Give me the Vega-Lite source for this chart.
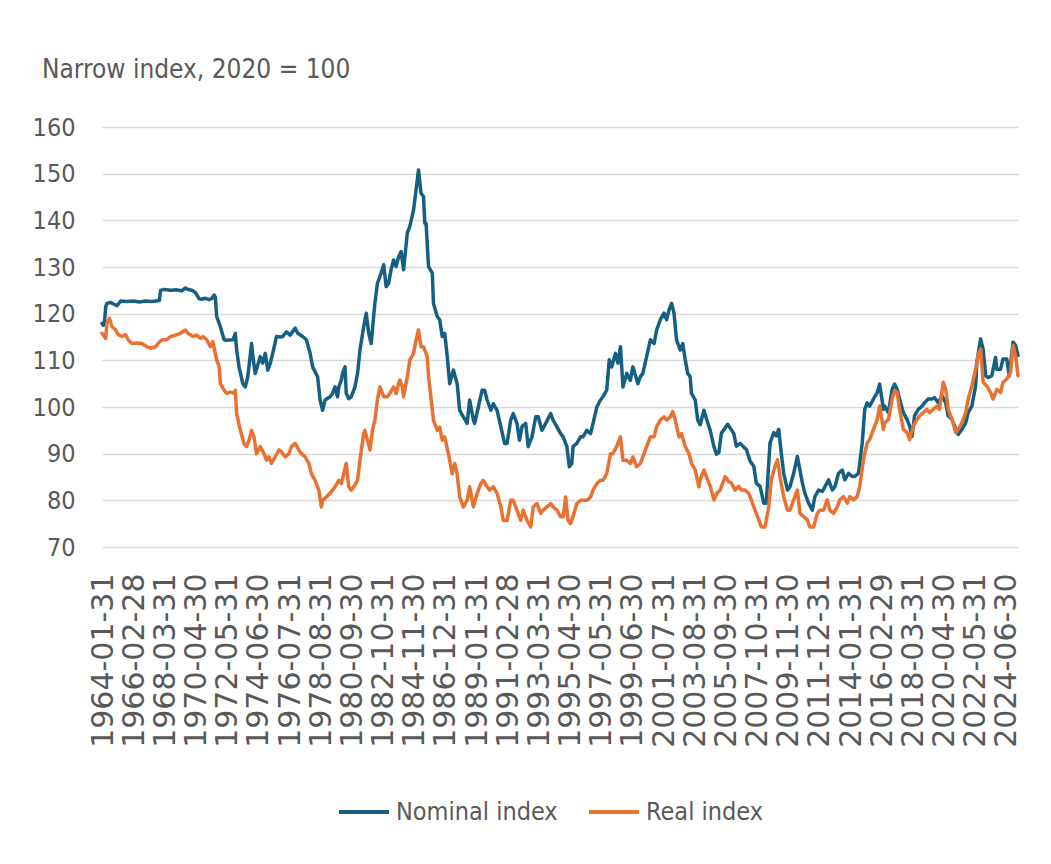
{
  "$schema": "https://vega.github.io/schema/vega-lite/v6.json",
  "autosize": "none",
  "width": 916,
  "height": 420,
  "padding": {"left": 102, "top": 127, "right": 33, "bottom": 317},
  "background": "white",
  "config": {
    "view": {"stroke": null},
    "font": "DejaVu Sans Condensed, Roboto, sans-serif"
  },
  "title": {
    "text": "Narrow index, 2020 = 100",
    "anchor": "start",
    "frame": "group",
    "font": "DejaVu Sans Condensed, Roboto, sans-serif",
    "fontSize": 26,
    "fontWeight": "normal",
    "color": "#595959",
    "dx": -60,
    "offset": 32
  },
  "data": {
    "values": [
      {"d":"1964-01","s":"Nominal index","v":117.9},
      {"d":"1964-02","s":"Nominal index","v":117.5},
      {"d":"1964-03","s":"Nominal index","v":118.0},
      {"d":"1964-04","s":"Nominal index","v":121.5},
      {"d":"1964-05","s":"Nominal index","v":122.2},
      {"d":"1964-08","s":"Nominal index","v":122.4},
      {"d":"1965-01","s":"Nominal index","v":121.7},
      {"d":"1965-04","s":"Nominal index","v":122.7},
      {"d":"1965-09","s":"Nominal index","v":122.6},
      {"d":"1966-02","s":"Nominal index","v":122.7},
      {"d":"1966-07","s":"Nominal index","v":122.5},
      {"d":"1966-12","s":"Nominal index","v":122.7},
      {"d":"1967-05","s":"Nominal index","v":122.6},
      {"d":"1967-11","s":"Nominal index","v":122.8},
      {"d":"1967-12","s":"Nominal index","v":125.0},
      {"d":"1968-03","s":"Nominal index","v":125.2},
      {"d":"1968-08","s":"Nominal index","v":125.0},
      {"d":"1969-01","s":"Nominal index","v":125.1},
      {"d":"1969-05","s":"Nominal index","v":124.9},
      {"d":"1969-08","s":"Nominal index","v":125.5},
      {"d":"1969-09","s":"Nominal index","v":125.3},
      {"d":"1970-02","s":"Nominal index","v":124.9},
      {"d":"1970-04","s":"Nominal index","v":124.5},
      {"d":"1970-07","s":"Nominal index","v":123.2},
      {"d":"1970-09","s":"Nominal index","v":123.1},
      {"d":"1970-12","s":"Nominal index","v":123.3},
      {"d":"1971-03","s":"Nominal index","v":123.0},
      {"d":"1971-05","s":"Nominal index","v":123.2},
      {"d":"1971-07","s":"Nominal index","v":124.0},
      {"d":"1971-08","s":"Nominal index","v":123.5},
      {"d":"1971-09","s":"Nominal index","v":119.4},
      {"d":"1971-12","s":"Nominal index","v":117.2},
      {"d":"1972-03","s":"Nominal index","v":114.4},
      {"d":"1972-05","s":"Nominal index","v":114.3},
      {"d":"1972-10","s":"Nominal index","v":114.4},
      {"d":"1972-12","s":"Nominal index","v":115.8},
      {"d":"1973-01","s":"Nominal index","v":112.2},
      {"d":"1973-03","s":"Nominal index","v":108.6},
      {"d":"1973-06","s":"Nominal index","v":105.0},
      {"d":"1973-08","s":"Nominal index","v":104.3},
      {"d":"1973-10","s":"Nominal index","v":106.5},
      {"d":"1974-01","s":"Nominal index","v":113.6},
      {"d":"1974-02","s":"Nominal index","v":110.8},
      {"d":"1974-04","s":"Nominal index","v":107.2},
      {"d":"1974-08","s":"Nominal index","v":110.8},
      {"d":"1974-10","s":"Nominal index","v":109.4},
      {"d":"1974-12","s":"Nominal index","v":111.5},
      {"d":"1975-02","s":"Nominal index","v":107.9},
      {"d":"1975-04","s":"Nominal index","v":109.3},
      {"d":"1975-06","s":"Nominal index","v":111.5},
      {"d":"1975-09","s":"Nominal index","v":115.1},
      {"d":"1975-12","s":"Nominal index","v":115.0},
      {"d":"1976-02","s":"Nominal index","v":115.1},
      {"d":"1976-05","s":"Nominal index","v":116.1},
      {"d":"1976-08","s":"Nominal index","v":115.4},
      {"d":"1976-12","s":"Nominal index","v":116.9},
      {"d":"1977-02","s":"Nominal index","v":115.8},
      {"d":"1977-06","s":"Nominal index","v":115.1},
      {"d":"1977-09","s":"Nominal index","v":114.4},
      {"d":"1977-12","s":"Nominal index","v":111.5},
      {"d":"1978-02","s":"Nominal index","v":108.6},
      {"d":"1978-06","s":"Nominal index","v":106.5},
      {"d":"1978-08","s":"Nominal index","v":101.5},
      {"d":"1978-10","s":"Nominal index","v":99.3},
      {"d":"1978-12","s":"Nominal index","v":101.5},
      {"d":"1979-04","s":"Nominal index","v":102.2},
      {"d":"1979-06","s":"Nominal index","v":102.9},
      {"d":"1979-08","s":"Nominal index","v":104.3},
      {"d":"1979-10","s":"Nominal index","v":102.2},
      {"d":"1979-11","s":"Nominal index","v":104.3},
      {"d":"1980-01","s":"Nominal index","v":105.7},
      {"d":"1980-02","s":"Nominal index","v":107.2},
      {"d":"1980-04","s":"Nominal index","v":108.6},
      {"d":"1980-05","s":"Nominal index","v":102.9},
      {"d":"1980-07","s":"Nominal index","v":101.8},
      {"d":"1980-09","s":"Nominal index","v":102.2},
      {"d":"1980-10","s":"Nominal index","v":102.9},
      {"d":"1980-12","s":"Nominal index","v":104.3},
      {"d":"1981-02","s":"Nominal index","v":107.2},
      {"d":"1981-04","s":"Nominal index","v":112.2},
      {"d":"1981-07","s":"Nominal index","v":117.2},
      {"d":"1981-09","s":"Nominal index","v":120.1},
      {"d":"1981-11","s":"Nominal index","v":115.8},
      {"d":"1982-01","s":"Nominal index","v":113.6},
      {"d":"1982-03","s":"Nominal index","v":119.4},
      {"d":"1982-04","s":"Nominal index","v":122.2},
      {"d":"1982-06","s":"Nominal index","v":126.5},
      {"d":"1982-09","s":"Nominal index","v":128.7},
      {"d":"1982-11","s":"Nominal index","v":130.5},
      {"d":"1983-01","s":"Nominal index","v":125.8},
      {"d":"1983-03","s":"Nominal index","v":126.5},
      {"d":"1983-05","s":"Nominal index","v":129.4},
      {"d":"1983-07","s":"Nominal index","v":131.5},
      {"d":"1983-09","s":"Nominal index","v":130.1},
      {"d":"1983-11","s":"Nominal index","v":132.2},
      {"d":"1984-01","s":"Nominal index","v":133.3},
      {"d":"1984-03","s":"Nominal index","v":129.4},
      {"d":"1984-06","s":"Nominal index","v":137.3},
      {"d":"1984-08","s":"Nominal index","v":138.7},
      {"d":"1984-11","s":"Nominal index","v":142.3},
      {"d":"1985-01","s":"Nominal index","v":146.6},
      {"d":"1985-03","s":"Nominal index","v":150.8},
      {"d":"1985-05","s":"Nominal index","v":145.8},
      {"d":"1985-07","s":"Nominal index","v":145.1},
      {"d":"1985-08","s":"Nominal index","v":139.4},
      {"d":"1985-09","s":"Nominal index","v":139.4},
      {"d":"1985-11","s":"Nominal index","v":130.1},
      {"d":"1986-02","s":"Nominal index","v":128.7},
      {"d":"1986-03","s":"Nominal index","v":122.2},
      {"d":"1986-06","s":"Nominal index","v":119.4},
      {"d":"1986-08","s":"Nominal index","v":118.7},
      {"d":"1986-10","s":"Nominal index","v":115.1},
      {"d":"1986-12","s":"Nominal index","v":115.8},
      {"d":"1987-02","s":"Nominal index","v":110.8},
      {"d":"1987-04","s":"Nominal index","v":105.0},
      {"d":"1987-07","s":"Nominal index","v":107.9},
      {"d":"1987-10","s":"Nominal index","v":105.0},
      {"d":"1987-12","s":"Nominal index","v":99.3},
      {"d":"1988-03","s":"Nominal index","v":97.9},
      {"d":"1988-06","s":"Nominal index","v":96.5},
      {"d":"1988-08","s":"Nominal index","v":101.5},
      {"d":"1988-11","s":"Nominal index","v":97.2},
      {"d":"1988-12","s":"Nominal index","v":96.5},
      {"d":"1989-03","s":"Nominal index","v":100.0},
      {"d":"1989-06","s":"Nominal index","v":103.6},
      {"d":"1989-08","s":"Nominal index","v":103.6},
      {"d":"1989-10","s":"Nominal index","v":101.5},
      {"d":"1990-01","s":"Nominal index","v":99.3},
      {"d":"1990-03","s":"Nominal index","v":100.7},
      {"d":"1990-06","s":"Nominal index","v":99.3},
      {"d":"1990-09","s":"Nominal index","v":95.8},
      {"d":"1990-12","s":"Nominal index","v":92.2},
      {"d":"1991-02","s":"Nominal index","v":92.2},
      {"d":"1991-05","s":"Nominal index","v":97.2},
      {"d":"1991-07","s":"Nominal index","v":98.6},
      {"d":"1991-10","s":"Nominal index","v":96.5},
      {"d":"1991-12","s":"Nominal index","v":92.9},
      {"d":"1992-02","s":"Nominal index","v":95.8},
      {"d":"1992-05","s":"Nominal index","v":96.5},
      {"d":"1992-07","s":"Nominal index","v":91.5},
      {"d":"1992-10","s":"Nominal index","v":93.6},
      {"d":"1993-01","s":"Nominal index","v":97.9},
      {"d":"1993-03","s":"Nominal index","v":97.9},
      {"d":"1993-06","s":"Nominal index","v":95.0},
      {"d":"1993-09","s":"Nominal index","v":96.5},
      {"d":"1994-01","s":"Nominal index","v":98.6},
      {"d":"1994-03","s":"Nominal index","v":97.2},
      {"d":"1994-06","s":"Nominal index","v":95.8},
      {"d":"1994-09","s":"Nominal index","v":94.3},
      {"d":"1994-11","s":"Nominal index","v":93.6},
      {"d":"1995-02","s":"Nominal index","v":91.5},
      {"d":"1995-04","s":"Nominal index","v":87.2},
      {"d":"1995-06","s":"Nominal index","v":87.9},
      {"d":"1995-07","s":"Nominal index","v":91.5},
      {"d":"1995-10","s":"Nominal index","v":92.2},
      {"d":"1996-01","s":"Nominal index","v":93.6},
      {"d":"1996-03","s":"Nominal index","v":93.6},
      {"d":"1996-06","s":"Nominal index","v":95.0},
      {"d":"1996-09","s":"Nominal index","v":94.3},
      {"d":"1996-11","s":"Nominal index","v":96.5},
      {"d":"1997-02","s":"Nominal index","v":100.0},
      {"d":"1997-05","s":"Nominal index","v":101.5},
      {"d":"1997-07","s":"Nominal index","v":102.2},
      {"d":"1997-10","s":"Nominal index","v":103.6},
      {"d":"1997-12","s":"Nominal index","v":110.1},
      {"d":"1998-02","s":"Nominal index","v":108.6},
      {"d":"1998-05","s":"Nominal index","v":111.5},
      {"d":"1998-07","s":"Nominal index","v":109.4},
      {"d":"1998-09","s":"Nominal index","v":112.9},
      {"d":"1998-11","s":"Nominal index","v":104.3},
      {"d":"1999-02","s":"Nominal index","v":107.2},
      {"d":"1999-05","s":"Nominal index","v":105.7},
      {"d":"1999-07","s":"Nominal index","v":108.6},
      {"d":"1999-11","s":"Nominal index","v":105.0},
      {"d":"2000-01","s":"Nominal index","v":106.5},
      {"d":"2000-03","s":"Nominal index","v":107.2},
      {"d":"2000-06","s":"Nominal index","v":110.8},
      {"d":"2000-09","s":"Nominal index","v":114.4},
      {"d":"2000-12","s":"Nominal index","v":113.6},
      {"d":"2001-02","s":"Nominal index","v":116.5},
      {"d":"2001-05","s":"Nominal index","v":118.7},
      {"d":"2001-08","s":"Nominal index","v":120.1},
      {"d":"2001-10","s":"Nominal index","v":118.7},
      {"d":"2001-12","s":"Nominal index","v":120.8},
      {"d":"2002-02","s":"Nominal index","v":122.2},
      {"d":"2002-04","s":"Nominal index","v":120.1},
      {"d":"2002-06","s":"Nominal index","v":114.4},
      {"d":"2002-09","s":"Nominal index","v":112.2},
      {"d":"2002-11","s":"Nominal index","v":113.6},
      {"d":"2003-01","s":"Nominal index","v":110.1},
      {"d":"2003-03","s":"Nominal index","v":107.2},
      {"d":"2003-05","s":"Nominal index","v":106.5},
      {"d":"2003-06","s":"Nominal index","v":102.9},
      {"d":"2003-09","s":"Nominal index","v":101.5},
      {"d":"2003-11","s":"Nominal index","v":97.2},
      {"d":"2004-01","s":"Nominal index","v":96.2},
      {"d":"2004-04","s":"Nominal index","v":99.3},
      {"d":"2004-06","s":"Nominal index","v":97.5},
      {"d":"2004-09","s":"Nominal index","v":95.0},
      {"d":"2004-12","s":"Nominal index","v":91.5},
      {"d":"2005-02","s":"Nominal index","v":89.9},
      {"d":"2005-04","s":"Nominal index","v":90.3},
      {"d":"2005-06","s":"Nominal index","v":94.4},
      {"d":"2005-09","s":"Nominal index","v":95.5},
      {"d":"2005-11","s":"Nominal index","v":96.3},
      {"d":"2006-01","s":"Nominal index","v":95.5},
      {"d":"2006-04","s":"Nominal index","v":94.3},
      {"d":"2006-06","s":"Nominal index","v":91.6},
      {"d":"2006-09","s":"Nominal index","v":92.2},
      {"d":"2006-12","s":"Nominal index","v":91.4},
      {"d":"2007-02","s":"Nominal index","v":90.9},
      {"d":"2007-05","s":"Nominal index","v":88.5},
      {"d":"2007-08","s":"Nominal index","v":87.3},
      {"d":"2007-10","s":"Nominal index","v":83.7},
      {"d":"2008-01","s":"Nominal index","v":83.0},
      {"d":"2008-04","s":"Nominal index","v":79.4},
      {"d":"2008-06","s":"Nominal index","v":79.4},
      {"d":"2008-09","s":"Nominal index","v":92.3},
      {"d":"2008-12","s":"Nominal index","v":94.5},
      {"d":"2009-02","s":"Nominal index","v":93.8},
      {"d":"2009-04","s":"Nominal index","v":95.2},
      {"d":"2009-06","s":"Nominal index","v":90.2},
      {"d":"2009-08","s":"Nominal index","v":85.8},
      {"d":"2009-11","s":"Nominal index","v":82.2},
      {"d":"2010-01","s":"Nominal index","v":82.9},
      {"d":"2010-04","s":"Nominal index","v":85.8},
      {"d":"2010-07","s":"Nominal index","v":89.4},
      {"d":"2010-09","s":"Nominal index","v":86.5},
      {"d":"2010-11","s":"Nominal index","v":83.7},
      {"d":"2011-01","s":"Nominal index","v":81.5},
      {"d":"2011-04","s":"Nominal index","v":79.4},
      {"d":"2011-07","s":"Nominal index","v":77.9},
      {"d":"2011-09","s":"Nominal index","v":80.8},
      {"d":"2011-12","s":"Nominal index","v":82.2},
      {"d":"2012-03","s":"Nominal index","v":81.9},
      {"d":"2012-05","s":"Nominal index","v":82.9},
      {"d":"2012-08","s":"Nominal index","v":84.4},
      {"d":"2012-11","s":"Nominal index","v":82.2},
      {"d":"2013-01","s":"Nominal index","v":82.9},
      {"d":"2013-04","s":"Nominal index","v":85.8},
      {"d":"2013-07","s":"Nominal index","v":86.5},
      {"d":"2013-09","s":"Nominal index","v":84.4},
      {"d":"2013-12","s":"Nominal index","v":85.8},
      {"d":"2014-03","s":"Nominal index","v":85.1},
      {"d":"2014-05","s":"Nominal index","v":85.1},
      {"d":"2014-08","s":"Nominal index","v":85.8},
      {"d":"2014-11","s":"Nominal index","v":92.3},
      {"d":"2015-01","s":"Nominal index","v":99.5},
      {"d":"2015-03","s":"Nominal index","v":100.9},
      {"d":"2015-05","s":"Nominal index","v":100.2},
      {"d":"2015-08","s":"Nominal index","v":101.7},
      {"d":"2015-11","s":"Nominal index","v":103.1},
      {"d":"2016-01","s":"Nominal index","v":104.9},
      {"d":"2016-04","s":"Nominal index","v":99.5},
      {"d":"2016-05","s":"Nominal index","v":100.2},
      {"d":"2016-08","s":"Nominal index","v":98.8},
      {"d":"2016-11","s":"Nominal index","v":103.8},
      {"d":"2017-01","s":"Nominal index","v":104.9},
      {"d":"2017-03","s":"Nominal index","v":103.8},
      {"d":"2017-05","s":"Nominal index","v":101.7},
      {"d":"2017-08","s":"Nominal index","v":98.8},
      {"d":"2017-11","s":"Nominal index","v":97.3},
      {"d":"2018-01","s":"Nominal index","v":95.9},
      {"d":"2018-03","s":"Nominal index","v":93.7},
      {"d":"2018-05","s":"Nominal index","v":98.1},
      {"d":"2018-08","s":"Nominal index","v":99.5},
      {"d":"2018-11","s":"Nominal index","v":100.2},
      {"d":"2019-01","s":"Nominal index","v":100.9},
      {"d":"2019-04","s":"Nominal index","v":101.7},
      {"d":"2019-07","s":"Nominal index","v":101.7},
      {"d":"2019-09","s":"Nominal index","v":102.0},
      {"d":"2019-12","s":"Nominal index","v":100.9},
      {"d":"2020-03","s":"Nominal index","v":102.4},
      {"d":"2020-06","s":"Nominal index","v":100.9},
      {"d":"2020-08","s":"Nominal index","v":98.1},
      {"d":"2020-11","s":"Nominal index","v":97.3},
      {"d":"2021-02","s":"Nominal index","v":95.2},
      {"d":"2021-04","s":"Nominal index","v":94.1},
      {"d":"2021-07","s":"Nominal index","v":95.2},
      {"d":"2021-10","s":"Nominal index","v":96.6},
      {"d":"2021-12","s":"Nominal index","v":98.8},
      {"d":"2022-03","s":"Nominal index","v":100.2},
      {"d":"2022-06","s":"Nominal index","v":104.5},
      {"d":"2022-07","s":"Nominal index","v":109.6},
      {"d":"2022-10","s":"Nominal index","v":114.6},
      {"d":"2022-12","s":"Nominal index","v":112.4},
      {"d":"2023-02","s":"Nominal index","v":106.7},
      {"d":"2023-04","s":"Nominal index","v":106.3},
      {"d":"2023-07","s":"Nominal index","v":106.7},
      {"d":"2023-10","s":"Nominal index","v":110.6},
      {"d":"2023-11","s":"Nominal index","v":108.1},
      {"d":"2024-02","s":"Nominal index","v":108.1},
      {"d":"2024-04","s":"Nominal index","v":110.3},
      {"d":"2024-07","s":"Nominal index","v":110.3},
      {"d":"2024-09","s":"Nominal index","v":106.7},
      {"d":"2024-12","s":"Nominal index","v":113.9},
      {"d":"2025-02","s":"Nominal index","v":113.2},
      {"d":"2025-04","s":"Nominal index","v":111.0},
      {"d":"1964-01","s":"Real index","v":115.8},
      {"d":"1964-04","s":"Real index","v":114.7},
      {"d":"1964-05","s":"Real index","v":117.9},
      {"d":"1964-07","s":"Real index","v":119.0},
      {"d":"1964-09","s":"Real index","v":117.2},
      {"d":"1964-12","s":"Real index","v":116.5},
      {"d":"1965-02","s":"Real index","v":115.5},
      {"d":"1965-05","s":"Real index","v":115.1},
      {"d":"1965-08","s":"Real index","v":115.5},
      {"d":"1965-10","s":"Real index","v":114.4},
      {"d":"1966-01","s":"Real index","v":113.6},
      {"d":"1966-05","s":"Real index","v":113.7},
      {"d":"1966-09","s":"Real index","v":113.6},
      {"d":"1967-01","s":"Real index","v":112.9},
      {"d":"1967-04","s":"Real index","v":112.6},
      {"d":"1967-08","s":"Real index","v":112.9},
      {"d":"1967-10","s":"Real index","v":113.6},
      {"d":"1968-01","s":"Real index","v":114.4},
      {"d":"1968-05","s":"Real index","v":114.4},
      {"d":"1968-08","s":"Real index","v":115.1},
      {"d":"1968-12","s":"Real index","v":115.4},
      {"d":"1969-04","s":"Real index","v":115.8},
      {"d":"1969-08","s":"Real index","v":116.5},
      {"d":"1969-10","s":"Real index","v":115.8},
      {"d":"1970-02","s":"Real index","v":115.1},
      {"d":"1970-05","s":"Real index","v":115.4},
      {"d":"1970-08","s":"Real index","v":114.7},
      {"d":"1970-10","s":"Real index","v":115.1},
      {"d":"1971-01","s":"Real index","v":114.4},
      {"d":"1971-04","s":"Real index","v":112.9},
      {"d":"1971-06","s":"Real index","v":114.0},
      {"d":"1971-09","s":"Real index","v":110.1},
      {"d":"1971-11","s":"Real index","v":108.6},
      {"d":"1971-12","s":"Real index","v":105.0},
      {"d":"1972-03","s":"Real index","v":103.6},
      {"d":"1972-05","s":"Real index","v":102.9},
      {"d":"1972-08","s":"Real index","v":103.2},
      {"d":"1972-11","s":"Real index","v":102.9},
      {"d":"1972-12","s":"Real index","v":103.6},
      {"d":"1973-01","s":"Real index","v":98.6},
      {"d":"1973-04","s":"Real index","v":95.0},
      {"d":"1973-07","s":"Real index","v":92.2},
      {"d":"1973-09","s":"Real index","v":91.5},
      {"d":"1973-11","s":"Real index","v":92.9},
      {"d":"1974-01","s":"Real index","v":95.0},
      {"d":"1974-03","s":"Real index","v":93.6},
      {"d":"1974-05","s":"Real index","v":90.0},
      {"d":"1974-08","s":"Real index","v":91.5},
      {"d":"1974-11","s":"Real index","v":90.0},
      {"d":"1975-01","s":"Real index","v":88.6},
      {"d":"1975-03","s":"Real index","v":89.3},
      {"d":"1975-05","s":"Real index","v":87.9},
      {"d":"1975-08","s":"Real index","v":89.3},
      {"d":"1975-11","s":"Real index","v":90.8},
      {"d":"1976-01","s":"Real index","v":90.4},
      {"d":"1976-04","s":"Real index","v":89.3},
      {"d":"1976-07","s":"Real index","v":90.0},
      {"d":"1976-09","s":"Real index","v":91.5},
      {"d":"1976-12","s":"Real index","v":92.2},
      {"d":"1977-03","s":"Real index","v":90.8},
      {"d":"1977-05","s":"Real index","v":90.0},
      {"d":"1977-08","s":"Real index","v":89.3},
      {"d":"1977-11","s":"Real index","v":87.9},
      {"d":"1978-01","s":"Real index","v":85.7},
      {"d":"1978-04","s":"Real index","v":84.3},
      {"d":"1978-07","s":"Real index","v":82.2},
      {"d":"1978-09","s":"Real index","v":78.6},
      {"d":"1978-10","s":"Real index","v":80.0},
      {"d":"1979-01","s":"Real index","v":80.7},
      {"d":"1979-04","s":"Real index","v":81.5},
      {"d":"1979-06","s":"Real index","v":82.2},
      {"d":"1979-08","s":"Real index","v":82.9},
      {"d":"1979-11","s":"Real index","v":84.3},
      {"d":"1980-01","s":"Real index","v":83.6},
      {"d":"1980-03","s":"Real index","v":85.7},
      {"d":"1980-05","s":"Real index","v":87.9},
      {"d":"1980-07","s":"Real index","v":82.9},
      {"d":"1980-09","s":"Real index","v":82.2},
      {"d":"1980-11","s":"Real index","v":82.9},
      {"d":"1981-02","s":"Real index","v":84.3},
      {"d":"1981-04","s":"Real index","v":88.6},
      {"d":"1981-07","s":"Real index","v":94.3},
      {"d":"1981-08","s":"Real index","v":95.0},
      {"d":"1981-10","s":"Real index","v":92.9},
      {"d":"1981-12","s":"Real index","v":90.8},
      {"d":"1982-02","s":"Real index","v":95.0},
      {"d":"1982-04","s":"Real index","v":97.2},
      {"d":"1982-06","s":"Real index","v":101.5},
      {"d":"1982-08","s":"Real index","v":104.3},
      {"d":"1982-11","s":"Real index","v":102.2},
      {"d":"1983-02","s":"Real index","v":102.2},
      {"d":"1983-04","s":"Real index","v":102.9},
      {"d":"1983-07","s":"Real index","v":104.3},
      {"d":"1983-09","s":"Real index","v":102.9},
      {"d":"1983-11","s":"Real index","v":105.0},
      {"d":"1983-12","s":"Real index","v":105.8},
      {"d":"1984-02","s":"Real index","v":104.3},
      {"d":"1984-03","s":"Real index","v":102.2},
      {"d":"1984-06","s":"Real index","v":106.5},
      {"d":"1984-08","s":"Real index","v":110.1},
      {"d":"1984-11","s":"Real index","v":111.5},
      {"d":"1985-01","s":"Real index","v":114.4},
      {"d":"1985-03","s":"Real index","v":116.5},
      {"d":"1985-05","s":"Real index","v":112.9},
      {"d":"1985-07","s":"Real index","v":112.9},
      {"d":"1985-09","s":"Real index","v":111.5},
      {"d":"1985-10","s":"Real index","v":110.8},
      {"d":"1985-11","s":"Real index","v":106.5},
      {"d":"1985-12","s":"Real index","v":104.3},
      {"d":"1986-03","s":"Real index","v":97.2},
      {"d":"1986-06","s":"Real index","v":95.0},
      {"d":"1986-08","s":"Real index","v":95.7},
      {"d":"1986-10","s":"Real index","v":92.9},
      {"d":"1986-12","s":"Real index","v":93.6},
      {"d":"1987-03","s":"Real index","v":90.0},
      {"d":"1987-06","s":"Real index","v":85.7},
      {"d":"1987-08","s":"Real index","v":87.9},
      {"d":"1987-10","s":"Real index","v":85.7},
      {"d":"1987-12","s":"Real index","v":80.7},
      {"d":"1988-03","s":"Real index","v":78.6},
      {"d":"1988-06","s":"Real index","v":80.0},
      {"d":"1988-08","s":"Real index","v":82.9},
      {"d":"1988-11","s":"Real index","v":78.6},
      {"d":"1989-02","s":"Real index","v":81.5},
      {"d":"1989-05","s":"Real index","v":83.6},
      {"d":"1989-07","s":"Real index","v":84.3},
      {"d":"1989-10","s":"Real index","v":82.9},
      {"d":"1989-12","s":"Real index","v":82.2},
      {"d":"1990-03","s":"Real index","v":82.9},
      {"d":"1990-06","s":"Real index","v":81.5},
      {"d":"1990-09","s":"Real index","v":78.6},
      {"d":"1990-11","s":"Real index","v":75.7},
      {"d":"1991-02","s":"Real index","v":75.7},
      {"d":"1991-05","s":"Real index","v":80.0},
      {"d":"1991-07","s":"Real index","v":80.0},
      {"d":"1991-10","s":"Real index","v":77.9},
      {"d":"1992-01","s":"Real index","v":75.7},
      {"d":"1992-03","s":"Real index","v":77.9},
      {"d":"1992-06","s":"Real index","v":75.7},
      {"d":"1992-09","s":"Real index","v":74.3},
      {"d":"1992-11","s":"Real index","v":78.6},
      {"d":"1993-02","s":"Real index","v":79.3},
      {"d":"1993-05","s":"Real index","v":77.2},
      {"d":"1993-07","s":"Real index","v":77.9},
      {"d":"1993-10","s":"Real index","v":78.6},
      {"d":"1994-01","s":"Real index","v":79.3},
      {"d":"1994-03","s":"Real index","v":78.6},
      {"d":"1994-06","s":"Real index","v":77.9},
      {"d":"1994-09","s":"Real index","v":76.5},
      {"d":"1994-11","s":"Real index","v":76.5},
      {"d":"1995-01","s":"Real index","v":80.7},
      {"d":"1995-03","s":"Real index","v":75.7},
      {"d":"1995-05","s":"Real index","v":75.0},
      {"d":"1995-07","s":"Real index","v":76.5},
      {"d":"1995-10","s":"Real index","v":79.3},
      {"d":"1996-01","s":"Real index","v":80.0},
      {"d":"1996-03","s":"Real index","v":80.0},
      {"d":"1996-06","s":"Real index","v":80.0},
      {"d":"1996-09","s":"Real index","v":80.7},
      {"d":"1996-11","s":"Real index","v":82.2},
      {"d":"1997-02","s":"Real index","v":83.6},
      {"d":"1997-05","s":"Real index","v":84.3},
      {"d":"1997-07","s":"Real index","v":84.3},
      {"d":"1997-10","s":"Real index","v":85.7},
      {"d":"1998-01","s":"Real index","v":90.0},
      {"d":"1998-03","s":"Real index","v":90.0},
      {"d":"1998-06","s":"Real index","v":91.5},
      {"d":"1998-09","s":"Real index","v":93.6},
      {"d":"1998-11","s":"Real index","v":88.6},
      {"d":"1999-02","s":"Real index","v":88.6},
      {"d":"1999-05","s":"Real index","v":87.9},
      {"d":"1999-07","s":"Real index","v":89.3},
      {"d":"1999-10","s":"Real index","v":87.2},
      {"d":"2000-01","s":"Real index","v":87.9},
      {"d":"2000-03","s":"Real index","v":89.3},
      {"d":"2000-06","s":"Real index","v":91.5},
      {"d":"2000-09","s":"Real index","v":93.6},
      {"d":"2000-12","s":"Real index","v":93.6},
      {"d":"2001-02","s":"Real index","v":95.8},
      {"d":"2001-05","s":"Real index","v":97.2},
      {"d":"2001-08","s":"Real index","v":97.9},
      {"d":"2001-10","s":"Real index","v":97.2},
      {"d":"2002-01","s":"Real index","v":97.9},
      {"d":"2002-03","s":"Real index","v":99.0},
      {"d":"2002-05","s":"Real index","v":97.2},
      {"d":"2002-08","s":"Real index","v":93.6},
      {"d":"2002-10","s":"Real index","v":94.3},
      {"d":"2003-01","s":"Real index","v":91.5},
      {"d":"2003-04","s":"Real index","v":90.0},
      {"d":"2003-06","s":"Real index","v":87.9},
      {"d":"2003-09","s":"Real index","v":86.5},
      {"d":"2003-12","s":"Real index","v":82.9},
      {"d":"2004-01","s":"Real index","v":84.4},
      {"d":"2004-04","s":"Real index","v":86.5},
      {"d":"2004-06","s":"Real index","v":85.1},
      {"d":"2004-09","s":"Real index","v":83.0},
      {"d":"2004-12","s":"Real index","v":80.1},
      {"d":"2005-02","s":"Real index","v":81.4},
      {"d":"2005-05","s":"Real index","v":82.2},
      {"d":"2005-09","s":"Real index","v":85.1},
      {"d":"2005-12","s":"Real index","v":84.0},
      {"d":"2006-02","s":"Real index","v":83.7},
      {"d":"2006-05","s":"Real index","v":82.2},
      {"d":"2006-08","s":"Real index","v":83.0},
      {"d":"2006-10","s":"Real index","v":82.2},
      {"d":"2007-01","s":"Real index","v":82.2},
      {"d":"2007-04","s":"Real index","v":81.5},
      {"d":"2007-06","s":"Real index","v":80.1},
      {"d":"2007-09","s":"Real index","v":77.9},
      {"d":"2007-12","s":"Real index","v":75.8},
      {"d":"2008-02","s":"Real index","v":74.3},
      {"d":"2008-05","s":"Real index","v":74.3},
      {"d":"2008-08","s":"Real index","v":78.6},
      {"d":"2008-10","s":"Real index","v":84.4},
      {"d":"2009-01","s":"Real index","v":87.3},
      {"d":"2009-03","s":"Real index","v":88.7},
      {"d":"2009-05","s":"Real index","v":85.1},
      {"d":"2009-08","s":"Real index","v":80.8},
      {"d":"2009-11","s":"Real index","v":77.9},
      {"d":"2010-01","s":"Real index","v":77.9},
      {"d":"2010-04","s":"Real index","v":80.1},
      {"d":"2010-07","s":"Real index","v":82.2},
      {"d":"2010-09","s":"Real index","v":77.2},
      {"d":"2010-12","s":"Real index","v":76.5},
      {"d":"2011-03","s":"Real index","v":75.8},
      {"d":"2011-05","s":"Real index","v":74.3},
      {"d":"2011-08","s":"Real index","v":74.3},
      {"d":"2011-11","s":"Real index","v":77.2},
      {"d":"2012-01","s":"Real index","v":77.9},
      {"d":"2012-04","s":"Real index","v":77.9},
      {"d":"2012-07","s":"Real index","v":80.1},
      {"d":"2012-09","s":"Real index","v":77.9},
      {"d":"2012-12","s":"Real index","v":77.2},
      {"d":"2013-03","s":"Real index","v":78.6},
      {"d":"2013-05","s":"Real index","v":80.1},
      {"d":"2013-08","s":"Real index","v":80.8},
      {"d":"2013-11","s":"Real index","v":79.4},
      {"d":"2014-01","s":"Real index","v":80.8},
      {"d":"2014-04","s":"Real index","v":80.1},
      {"d":"2014-07","s":"Real index","v":80.8},
      {"d":"2014-09","s":"Real index","v":83.0},
      {"d":"2014-12","s":"Real index","v":88.7},
      {"d":"2015-03","s":"Real index","v":92.3},
      {"d":"2015-05","s":"Real index","v":93.0},
      {"d":"2015-08","s":"Real index","v":95.2},
      {"d":"2015-11","s":"Real index","v":97.3},
      {"d":"2016-01","s":"Real index","v":100.2},
      {"d":"2016-04","s":"Real index","v":95.2},
      {"d":"2016-05","s":"Real index","v":96.6},
      {"d":"2016-08","s":"Real index","v":97.3},
      {"d":"2016-11","s":"Real index","v":101.7},
      {"d":"2017-01","s":"Real index","v":103.5},
      {"d":"2017-03","s":"Real index","v":103.1},
      {"d":"2017-05","s":"Real index","v":99.5},
      {"d":"2017-08","s":"Real index","v":95.2},
      {"d":"2017-11","s":"Real index","v":94.5},
      {"d":"2018-01","s":"Real index","v":93.0},
      {"d":"2018-04","s":"Real index","v":95.9},
      {"d":"2018-07","s":"Real index","v":97.3},
      {"d":"2018-09","s":"Real index","v":98.1},
      {"d":"2018-12","s":"Real index","v":98.8},
      {"d":"2019-03","s":"Real index","v":99.5},
      {"d":"2019-05","s":"Real index","v":98.8},
      {"d":"2019-08","s":"Real index","v":99.5},
      {"d":"2019-11","s":"Real index","v":100.2},
      {"d":"2020-01","s":"Real index","v":99.5},
      {"d":"2020-04","s":"Real index","v":105.3},
      {"d":"2020-06","s":"Real index","v":103.8},
      {"d":"2020-08","s":"Real index","v":99.5},
      {"d":"2020-11","s":"Real index","v":97.3},
      {"d":"2021-02","s":"Real index","v":94.5},
      {"d":"2021-04","s":"Real index","v":95.2},
      {"d":"2021-07","s":"Real index","v":96.6},
      {"d":"2021-10","s":"Real index","v":98.8},
      {"d":"2021-12","s":"Real index","v":101.7},
      {"d":"2022-03","s":"Real index","v":104.5},
      {"d":"2022-06","s":"Real index","v":108.1},
      {"d":"2022-08","s":"Real index","v":111.0},
      {"d":"2022-10","s":"Real index","v":112.4},
      {"d":"2022-12","s":"Real index","v":105.3},
      {"d":"2023-03","s":"Real index","v":104.5},
      {"d":"2023-06","s":"Real index","v":103.1},
      {"d":"2023-08","s":"Real index","v":101.7},
      {"d":"2023-11","s":"Real index","v":103.8},
      {"d":"2024-02","s":"Real index","v":103.1},
      {"d":"2024-04","s":"Real index","v":105.3},
      {"d":"2024-07","s":"Real index","v":106.0},
      {"d":"2024-10","s":"Real index","v":107.4},
      {"d":"2024-12","s":"Real index","v":113.2},
      {"d":"2025-02","s":"Real index","v":111.0},
      {"d":"2025-04","s":"Real index","v":106.7}
    ]
  },
  "mark": {"type": "line", "strokeWidth": 3.5, "strokeJoin": "round", "strokeCap": "round"},
  "encoding": {
    "x": {
      "field": "d",
      "type": "temporal",
      "scale": {
        "type": "utc",
        "nice": false,
        "domain": [
          {"year": 1964, "month": 1, "date": 1, "utc": true},
          {"year": 2025, "month": 4, "date": 1, "utc": true}
        ]
      },
      "axis": {
        "title": null,
        "labelExpr": "utcFormat(datum.value, '%Y-%m-%d')",
        "values": [
          {"year": 1964, "month": 1, "date": 31, "utc": true},
          {"year": 1966, "month": 2, "date": 28, "utc": true},
          {"year": 1968, "month": 3, "date": 31, "utc": true},
          {"year": 1970, "month": 4, "date": 30, "utc": true},
          {"year": 1972, "month": 5, "date": 31, "utc": true},
          {"year": 1974, "month": 6, "date": 30, "utc": true},
          {"year": 1976, "month": 7, "date": 31, "utc": true},
          {"year": 1978, "month": 8, "date": 31, "utc": true},
          {"year": 1980, "month": 9, "date": 30, "utc": true},
          {"year": 1982, "month": 10, "date": 31, "utc": true},
          {"year": 1984, "month": 11, "date": 30, "utc": true},
          {"year": 1986, "month": 12, "date": 31, "utc": true},
          {"year": 1989, "month": 1, "date": 31, "utc": true},
          {"year": 1991, "month": 2, "date": 28, "utc": true},
          {"year": 1993, "month": 3, "date": 31, "utc": true},
          {"year": 1995, "month": 4, "date": 30, "utc": true},
          {"year": 1997, "month": 5, "date": 31, "utc": true},
          {"year": 1999, "month": 6, "date": 30, "utc": true},
          {"year": 2001, "month": 7, "date": 31, "utc": true},
          {"year": 2003, "month": 8, "date": 31, "utc": true},
          {"year": 2005, "month": 9, "date": 30, "utc": true},
          {"year": 2007, "month": 10, "date": 31, "utc": true},
          {"year": 2009, "month": 11, "date": 30, "utc": true},
          {"year": 2011, "month": 12, "date": 31, "utc": true},
          {"year": 2014, "month": 1, "date": 31, "utc": true},
          {"year": 2016, "month": 2, "date": 29, "utc": true},
          {"year": 2018, "month": 3, "date": 31, "utc": true},
          {"year": 2020, "month": 4, "date": 30, "utc": true},
          {"year": 2022, "month": 5, "date": 31, "utc": true},
          {"year": 2024, "month": 6, "date": 30, "utc": true}
        ],
        "labelAngle": 270,
        "labelAlign": "right",
        "labelBaseline": "middle",
        "labelFont": "DejaVu Sans",
        "labelFontSize": 30,
        "labelColor": "#595959",
        "labelPadding": 26,
        "labelOverlap": false,
        "labelFlush": false,
        "labelLimit": 400,
        "ticks": false,
        "domain": false,
        "grid": false
      }
    },
    "y": {
      "field": "v",
      "type": "quantitative",
      "scale": {"domain": [70, 160], "nice": false, "zero": false},
      "axis": {
        "title": null,
        "values": [70, 80, 90, 100, 110, 120, 130, 140, 150, 160],
        "labelFont": "DejaVu Sans Condensed, Roboto, sans-serif",
        "labelFontSize": 25,
        "labelColor": "#595959",
        "labelPadding": 27,
        "ticks": false,
        "domain": false,
        "grid": true,
        "gridColor": "#d9d9d9",
        "gridWidth": 1.5
      }
    },
    "color": {
      "field": "s",
      "type": "nominal",
      "scale": {"domain": ["Nominal index", "Real index"], "range": ["#156082", "#E97132"]},
      "legend": {
        "title": null,
        "orient": "none",
        "legendX": 235,
        "legendY": 658,
        "direction": "horizontal",
        "symbolType": "stroke",
        "symbolSize": 2500,
        "symbolStrokeWidth": 4,
        "labelFont": "DejaVu Sans Condensed, Roboto, sans-serif",
        "labelFontSize": 25,
        "labelColor": "#595959",
        "labelOffset": 5,
        "columnPadding": 23,
        "labelLimit": 400
      }
    }
  }
}
